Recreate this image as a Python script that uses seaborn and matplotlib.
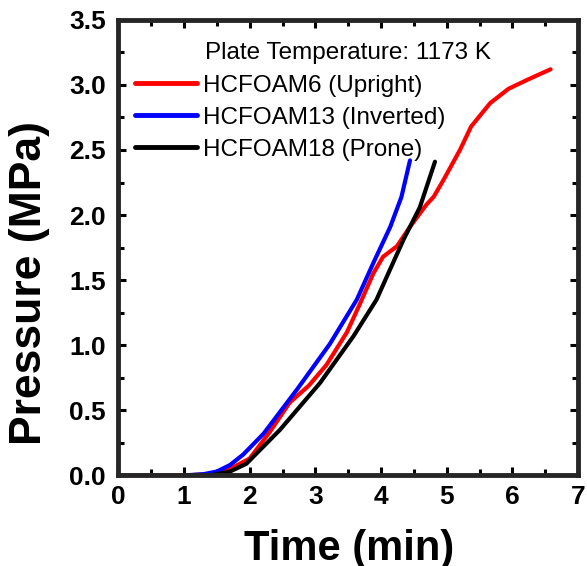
import matplotlib
matplotlib.use("Agg")
import matplotlib.pyplot as plt
import seaborn as sns
import pandas as pd
from matplotlib.ticker import MultipleLocator

# Pressure curves (time in min, pressure in MPa)
t_upright = [0.0, 0.5, 1.0, 1.4, 1.7, 2.0, 2.3, 2.61, 2.9, 3.17, 3.48, 3.68, 3.88, 4.03,
             4.24, 4.44, 4.69, 4.80, 4.95, 5.20, 5.37, 5.66, 5.94, 6.23, 6.58]
p_upright = [0.0, 0.0, 0.0, 0.01, 0.05, 0.13, 0.33, 0.56, 0.69, 0.85, 1.10, 1.32, 1.55, 1.68,
             1.76, 1.91, 2.08, 2.14, 2.27, 2.50, 2.68, 2.86, 2.97, 3.04, 3.12]

t_inverted = [1.0, 1.3, 1.5, 1.70, 1.9, 2.21, 2.72, 3.22, 3.63, 3.88, 4.14, 4.31, 4.44]
p_inverted = [0.0, 0.01, 0.03, 0.08, 0.16, 0.32, 0.66, 1.01, 1.35, 1.63, 1.91, 2.14, 2.42]

t_prone = [1.0, 1.4, 1.7, 1.95, 2.46, 3.07, 3.58, 3.73, 3.93, 4.09, 4.34, 4.59, 4.82]
p_prone = [0.0, 0.0, 0.03, 0.09, 0.35, 0.71, 1.07, 1.19, 1.35, 1.53, 1.81, 2.06, 2.41]

labels = ["HCFOAM6 (Upright)", "HCFOAM13 (Inverted)", "HCFOAM18 (Prone)"]
colors = ["#ff0000", "#0000ff", "#000000"]

frames = []
for lab, t, p in zip(labels, [t_upright, t_inverted, t_prone],
                     [p_upright, p_inverted, p_prone]):
    frames.append(pd.DataFrame({"Time": t, "Pressure": p, "Sample": lab}))
df = pd.concat(frames, ignore_index=True)

sns.set_style("ticks")
plt.rcParams["font.family"] = ["Liberation Sans", "DejaVu Sans"]
plt.rcParams["text.color"] = "black"
plt.rcParams["axes.labelcolor"] = "black"
plt.rcParams["xtick.color"] = "black"
plt.rcParams["ytick.color"] = "black"

fig, ax = plt.subplots(figsize=(5.87, 5.66), dpi=100)
fig.subplots_adjust(left=0.2015, right=0.985, top=0.965, bottom=0.16)

sns.lineplot(data=df, x="Time", y="Pressure", hue="Sample", hue_order=labels,
             palette=colors, sort=False, linewidth=3, ax=ax)

ax.set_xlim(0, 7)
ax.set_ylim(0, 3.5)
ax.xaxis.set_major_locator(MultipleLocator(1))
ax.xaxis.set_minor_locator(MultipleLocator(0.5))
ax.yaxis.set_major_locator(MultipleLocator(0.5))
ax.yaxis.set_minor_locator(MultipleLocator(0.25))
ax.set_xticks(range(0, 8))
ax.set_xticklabels([str(i) for i in range(0, 8)])

for s in ax.spines.values():
    s.set_linewidth(3.5)
    s.set_visible(True)
ax.tick_params(which="both", direction="in", top=True, right=True, width=2.2)
ax.tick_params(which="major", length=6, labelsize=19)
ax.tick_params(axis="x", which="major", pad=7)
ax.tick_params(axis="y", which="major", pad=9)
ax.tick_params(which="minor", length=4)
for lbl in ax.get_xticklabels() + ax.get_yticklabels():
    lbl.set_fontweight("bold")

ax.set_xlabel("Time (min)", fontsize=30, fontweight="bold")
ax.set_ylabel("Pressure (MPa)", fontsize=32, fontweight="bold")
ax.xaxis.set_label_coords(0.503, -0.117)
ax.yaxis.set_label_coords(-0.148, 0.422)

ax.text(0.5, 0.914, "Plate Temperature: 1173 K", transform=ax.transAxes,
        ha="center", va="baseline", fontsize=17.5)

handles, _ = ax.get_legend_handles_labels()
leg = ax.legend(handles, labels, loc="upper left", frameon=False,
                fontsize=17.5, handlelength=2.55, handletextpad=0.25,
                labelspacing=0.41, borderaxespad=0,
                bbox_to_anchor=(0.015, 0.901))
for h in leg.get_lines():
    h.set_linewidth(3.5)

fig.savefig("out.png", dpi=100)
